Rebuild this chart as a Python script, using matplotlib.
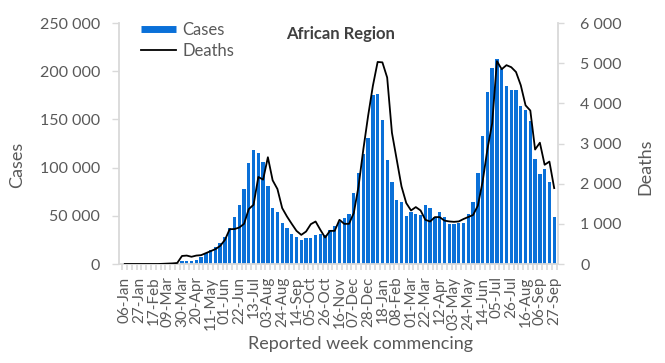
import matplotlib
matplotlib.use("Agg")
import matplotlib.pyplot as plt
from matplotlib.lines import Line2D
from matplotlib.ticker import FuncFormatter
import numpy as np

# WHO African Region, weekly figures, week commencing 06-Jan-2020 .. 27-Sep-2021
CASES = [
    0, 0, 0, 0, 0, 0, 0,
    2, 10, 80, 300, 900,
    2800, 3000, 3000, 4000, 7500, 11500, 15000, 17500, 21500, 28000,
    37000, 49000, 61000, 78000, 105000, 118000, 115000, 106000, 81000, 58500,
    54000, 43000, 37500, 31500, 28500, 25200, 27200, 27200, 30200, 31400,
    30500, 35000, 39600, 44000, 47700, 52000, 73300, 94000, 114600, 131000,
    175000, 176000, 149000, 108000, 84700, 66700, 64600, 49300, 54200, 52000,
    51000, 61500, 58300, 49000, 54200, 49000, 41700, 41700, 42500, 42500,
    52000, 64600, 94800, 132300, 178000, 203000, 213000, 202000, 184400, 181000,
    181000, 163500, 159700, 148000, 109400, 93750, 99000, 85400, 49000,
]
DEATHS = [
    0, 0, 0, 0, 0, 0, 0, 0,
    5, 10, 15, 25,
    200, 210, 180, 210, 220, 270, 320, 370, 450, 600,
    867, 870, 908, 1000, 1367, 1475, 2167, 2100, 2658, 2083,
    1867, 1392, 1183, 1000, 825, 725, 808, 992, 1058, 850,
    658, 825, 825, 1100, 1000, 1000, 1267, 1933, 2850, 3683,
    4433, 5030, 5020, 4642, 3267, 2600, 1933, 1517, 1333, 1417,
    1333, 1100, 1058, 1167, 1167, 1080, 1060, 1050, 1060, 1120,
    1170, 1220, 1450, 2050, 2850, 3500, 5050, 4850, 4950, 4900,
    4780, 4450, 3950, 3820, 2850, 3020, 2470, 2550, 1890,
]
TICK_LABELS = ["06-Jan", "27-Jan", "17-Feb", "09-Mar", "30-Mar", "20-Apr", "11-May",
               "01-Jun", "22-Jun", "13-Jul", "03-Aug", "24-Aug", "14-Sep", "05-Oct",
               "26-Oct", "16-Nov", "07-Dec", "28-Dec", "18-Jan", "08-Feb", "01-Mar",
               "22-Mar", "12-Apr", "03-May", "24-May", "14-Jun", "05-Jul", "26-Jul",
               "16-Aug", "06-Sep", "27-Sep"]

BLUE = "#0A70D8"
TEXT_GREY = "#595959"
AXIS_GREY = "#D9D9D9"
W, H = 665, 363

plt.rcParams["font.family"] = ["Lato", "DejaVu Sans"]


def spaced(v, _pos):
    return f"{int(round(v)):,}".replace(",", " ")


fig = plt.figure(figsize=(W / 100, H / 100), dpi=100)
ax = fig.add_axes([119 / W, 1 - 264 / H, (558 - 119) / W, (264 - 23) / H])
x = np.arange(len(CASES))

ax.bar(x, CASES, width=0.7, color=BLUE, linewidth=0)
ax2 = ax.twinx()
ax2.plot(x, DEATHS, color="black", linewidth=1.3)

ax.set_xlim(-1.2, 90.8)
ax.set_ylim(0, 250000)
ax2.set_ylim(0, 6000)
ax.set_yticks(np.arange(0, 250001, 50000))
ax2.set_yticks(np.arange(0, 6001, 1000))
ax.yaxis.set_major_formatter(FuncFormatter(spaced))
ax2.yaxis.set_major_formatter(FuncFormatter(spaced))

# category axis: labels every 3 weeks, a tick mark between every week
ax.set_xticks(x[::3])
ax.set_xticklabels(TICK_LABELS, rotation=90)
ax.set_xticks(np.arange(-0.5, len(CASES), 1), minor=True)
ax.tick_params(axis="x", which="major", length=0, pad=9, labelsize=11, labelcolor=TEXT_GREY)
ax.tick_params(axis="x", which="minor", length=4.5, width=1.2, color=AXIS_GREY)

ax.tick_params(axis="y", length=5, width=1, color=AXIS_GREY, labelcolor=TEXT_GREY,
               labelsize=11.5, pad=8.5)
ax2.tick_params(axis="y", length=4, width=1, color=AXIS_GREY, labelcolor=TEXT_GREY,
                labelsize=11.5, pad=12)

for a in (ax, ax2):
    a.spines["top"].set_visible(False)
    for s in ("left", "right", "bottom"):
        a.spines[s].set_color(AXIS_GREY)
        a.spines[s].set_linewidth(1.3)
ax.spines["right"].set_visible(False)
ax2.spines["left"].set_visible(False)
ax2.spines["bottom"].set_visible(False)

fig.text(17 / W, 1 - 165 / H, "Cases", rotation=90, ha="center", va="center",
         fontsize=13, color=TEXT_GREY)
fig.text(645 / W, 1 - 167 / H, "Deaths", rotation=90, ha="center", va="center",
         fontsize=13, color=TEXT_GREY)
fig.text(360 / W, 1 - 344 / H, "Reported week commencing", ha="center", va="center",
         fontsize=13, color=TEXT_GREY)
fig.text(341 / W, 1 - 34 / H, "African Region", ha="center", va="center",
         fontsize=12, fontweight="bold", color="#404040")

handles = [Line2D([], [], color=BLUE, linewidth=5, solid_capstyle="butt"),
           Line2D([], [], color="black", linewidth=1.3)]
leg = fig.legend(handles, ["Cases", "Deaths"], loc="upper left",
                 bbox_to_anchor=(141 / W, 1 - 22 / H), frameon=False, fontsize=12,
                 handlelength=2.1, handletextpad=0.4, labelspacing=0.3,
                 borderpad=0, borderaxespad=0)
for t in leg.get_texts():
    t.set_color(TEXT_GREY)

fig.savefig("out.png", dpi=100)
